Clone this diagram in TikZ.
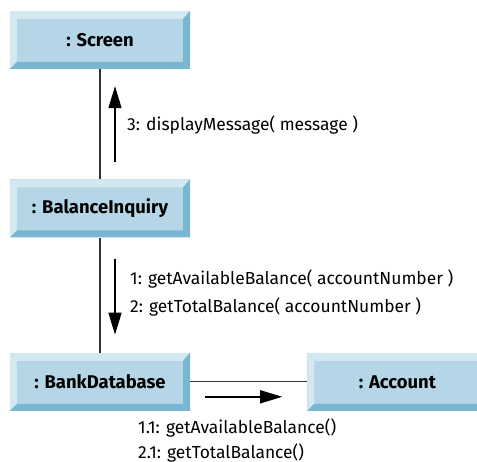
\documentclass[tikz,border=0pt]{standalone}
\usepackage{fontspec}
\setmainfont{Fira Sans}
\usetikzlibrary{positioning,arrows.meta}
\definecolor{objface}{HTML}{B4D6E6}
\definecolor{objlight}{HTML}{D4E8F1}
\definecolor{objdark}{HTML}{79B6D2}
\definecolor{msgline}{HTML}{333333}

\begin{document}
\begin{tikzpicture}[x=1bp, y=-1bp,
  obj/.style={fill=objface, minimum width=180bp, minimum height=58bp, inner sep=0pt,
              font=\fontsize{18.5}{22}\selectfont\bfseries,
              path picture={
                \fill[objlight] (path picture bounding box.north west) -- (path picture bounding box.north east)
                  -- ([xshift=-7bp,yshift=-8bp]path picture bounding box.north east)
                  -- ([xshift=7bp,yshift=-8bp]path picture bounding box.north west) -- cycle;
                \fill[objlight] (path picture bounding box.north west) -- ([xshift=7bp,yshift=-8bp]path picture bounding box.north west)
                  -- ([xshift=7bp,yshift=7bp]path picture bounding box.south west) -- (path picture bounding box.south west) -- cycle;
                \fill[objdark] (path picture bounding box.north east) -- ([xshift=-7bp,yshift=-8bp]path picture bounding box.north east)
                  -- ([xshift=-7bp,yshift=7bp]path picture bounding box.south east) -- (path picture bounding box.south east) -- cycle;
                \fill[objdark] (path picture bounding box.south west) -- ([xshift=7bp,yshift=7bp]path picture bounding box.south west)
                  -- ([xshift=-7bp,yshift=7bp]path picture bounding box.south east) -- (path picture bounding box.south east) -- cycle;
              }},
  link/.style={draw=msgline, line width=1.2bp},
  msg/.style={draw=black, line width=1.5bp, -{Triangle[length=22bp,width=13bp]}},
  label/.style={font=\fontsize{17.5}{21}\selectfont, anchor=west, inner sep=0pt}]
  \clip (0,0) rectangle (477,462);
  \useasboundingbox (0,0) rectangle (477,462);
  \node[obj] (scr) at (100,40) {: Screen};
  \node[obj, below=110bp of scr] (bi) {: BalanceInquiry};
  \node[obj, below=115bp of bi] (bd) {: BankDatabase};
  \node[obj, right=117bp of bd] (acc) {: Account};
  \draw[link] (scr) -- (bi);
  \draw[link] (bi) -- (bd);
  \draw[link] (bd) -- (acc);
  % messages
  \draw[msg] ([xshift=15bp,yshift=17bp]bi.north) -- ([xshift=15bp,yshift=-17bp]scr.south);
  \draw[msg] ([xshift=15bp,yshift=-21bp]bi.south) -- ([xshift=15bp,yshift=18bp]bd.north);
  \draw[msg] ([xshift=15bp,yshift=-15bp]bd.east) -- ([xshift=-25bp,yshift=-15bp]acc.west);
  \node[label] (m3) at (127,125) {3: displayMessage( message )};
  \node[label] (m1) at (130,279) {1: getAvailableBalance( accountNumber )};
  \node[label] (m2) at (130,307) {2: getTotalBalance( accountNumber )};
  \node[label] (m11) at (138,428) {1.1: getAvailableBalance()};
  \node[label] (m21) at (138,453) {2.1: getTotalBalance()};
\end{tikzpicture}
\end{document}
